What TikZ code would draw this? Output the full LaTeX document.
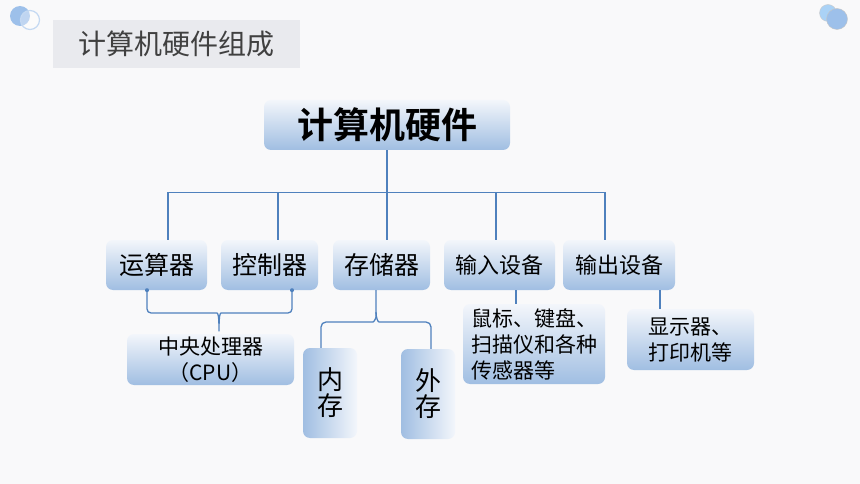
\documentclass[tikz,border=0pt]{standalone}
\usepackage{fontspec}
\setmainfont{Noto Sans CJK SC}[BoldFont={Noto Sans CJK SC Bold}]
\usetikzlibrary{shapes,positioning}
\definecolor{bgcol}{RGB}{249,249,250}
\definecolor{linkblue}{RGB}{79,129,189}
\definecolor{boxtop}{RGB}{243,246,251}
\definecolor{boxbot}{RGB}{160,190,226}
\definecolor{titlegray}{RGB}{233,234,238}
\definecolor{titletext}{RGB}{64,64,64}
\definecolor{dotblue}{RGB}{157,192,234}
\definecolor{skyblue}{RGB}{170,210,246}

\begin{document}
\begin{tikzpicture}[x=1pt,y=-1pt]
\useasboundingbox (0,0) rectangle (860,484);
\fill[bgcol] (0,0) rectangle (860,484);
% corner dots
\fill[dotblue] (20,16) circle (10pt);
\draw[draw=dotblue!60, line width=1.2pt, fill=white, fill opacity=0.35] (30,20) circle (9.5pt);
\filldraw[fill=skyblue, draw=gray!40] (828,13) circle (8.5pt);
\filldraw[fill=dotblue, draw=gray!45] (837,19) circle (10.5pt);
\begin{scope}
\tikzstyle{titlebox}=[rectangle, fill=titlegray, text=titletext, minimum width=247pt, minimum height=48pt, font=\fontsize{28}{32}\selectfont]
\tikzstyle{part}=[rectangle, rounded corners=7pt, top color=boxtop, bottom color=boxbot, text=black, inner sep=2pt, minimum height=50pt]
\tikzstyle{vpart}=[rectangle, rounded corners=7pt, left color=boxbot, right color=boxtop, text=black, inner sep=2pt, align=center, font=\fontsize{26}{26}\selectfont]
\tikzstyle{big}=[font=\fontsize{25}{30}\selectfont]
\tikzstyle{small}=[font=\fontsize{22}{26}\selectfont]
\tikzstyle{note}=[font=\fontsize{21}{26}\selectfont]
\tikzstyle{link}=[draw=linkblue, line width=1.3pt]
\node[titlebox] (t0) at (176.5,44) {计算机硬件组成};
\node[part, minimum width=246pt, font=\fontsize{36}{40}\selectfont\bfseries] (hw) at (387,125) {计算机硬件};
% second row
\node[part, big, minimum width=101pt] (ysq) at (156.5,265) {运算器};
\node[part, big, minimum width=97pt] (kzq) at (269.5,265) {控制器};
\node[part, big, minimum width=97pt] (ccq) at (381.5,265) {存储器};
\node[part, small, minimum width=111pt] (srsb) at (499.5,265) {输入设备};
\node[part, small, minimum width=112pt] (scsb) at (619,265) {输出设备};
% third row
\node[part, note, minimum width=167pt, minimum height=51pt, align=center] (cpu) at (210.5,359.5) {中央处理器\\（CPU）};
\node[vpart, minimum width=54pt, minimum height=90pt] (nc) at (330,393) {内\\存};
\node[vpart, minimum width=54pt, minimum height=90pt] (wc) at (428,394) {外\\存};
\node[part, note, minimum width=142pt, minimum height=80pt, align=left] (sb) at (534,344) {鼠标、键盘、\\扫描仪和各种\\传感器等};
\node[part, note, minimum width=127pt, minimum height=61pt, align=left] (xs) at (690.5,339.5) {显示器、\\打印机等};
% tree lines
\draw[link] (hw.south) -- ++(0,42) coordinate (bus);
\draw[link] ([xshift=11.5pt]ysq.north) |- (bus) -| ([xshift=-14pt]scsb.north);
\draw[link] ([xshift=8.5pt]kzq.north) |- (bus);
\draw[link] ([xshift=5.5pt]ccq.north) -- (bus);
\draw[link] ([xshift=-3.5pt]srsb.north) |- (bus);
% brace to cpu
\draw[link, rounded corners=4pt] ([xshift=-9.5pt]ysq.south) |- (213,313) .. controls (218,313) and (219,316) .. ([xshift=8.5pt]cpu.north) .. controls (219,316) and (220,313) .. (225,313) -| ([xshift=22.5pt]kzq.south);
\fill[linkblue] ([xshift=-9.5pt]ysq.south) circle (2pt);
\fill[linkblue] ([xshift=22.5pt]kzq.south) circle (2pt);
% brace to memory
\draw[link, rounded corners=5pt] ([xshift=-9pt]nc.north) |- (368,322) .. controls (374,322) and (376,318) .. (376,312) -- ([xshift=-5.5pt]ccq.south);
\draw[link, rounded corners=5pt] ([xshift=3pt]wc.north) |- (384,322) .. controls (378,322) and (376,318) .. (376,312);
% devices
\draw[link] ([xshift=16.5pt]srsb.south) -- ++(0,14);
\draw[link] ([xshift=41pt]scsb.south) -- ++(0,19);
\end{scope}
\end{tikzpicture}
\end{document}
